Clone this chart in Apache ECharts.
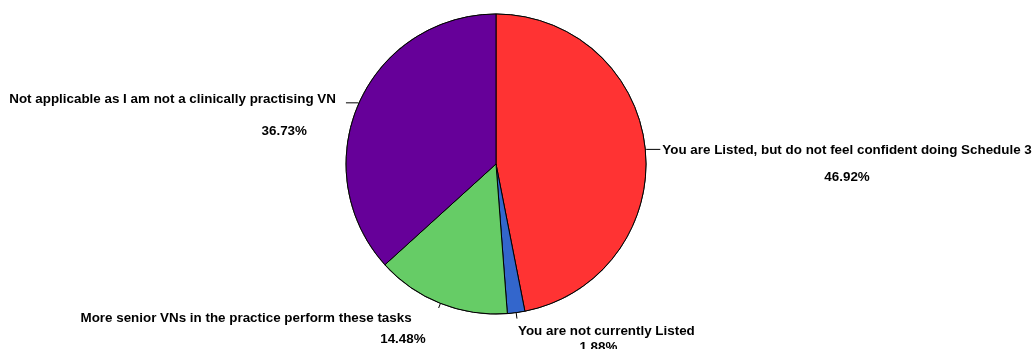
<!DOCTYPE html>
<html>
<head>
<meta charset="utf-8">
<script src="https://cdn.jsdelivr.net/npm/echarts@6/dist/echarts.min.js"></script>
<style>
  html, body { margin: 0; padding: 0; background: #fff; }
  #chart { width: 1036px; height: 349px; }
</style>
</head>
<body>
<div id="chart"></div>
<script>
// Survey responses (share of respondents, %)
const categories = [
  'You are Listed, but do not feel confident doing Schedule 3',
  'You are not currently Listed',
  'More senior VNs in the practice perform these tasks',
  'Not applicable as I am not a clinically practising VN'
];
const values = [46.92, 1.88, 14.48, 36.73];
const colors = ['#FF3333', '#3366CC', '#66CC66', '#660099'];

// Per-slice label placement: leader line lengths, gap to text,
// line spacing and block padding so the name sits at the line end
const labelStyles = [
  { length: 1, length2: 14, gap: 2,  lh: 27, pad: [29, 0, 0, 0], pAlign: 'center', pPad: [0, 0, 0, 0],  nPad: [0, 0, 0, 0] },
  { length: 6, length2: 0,  gap: 1,  lh: 16, pad: [41, 0, 0, 0], pAlign: 'center', pPad: [0, 16, 0, 0], nPad: [0, 0, 0, 0] },
  { length: 5, length2: 0,  gap: 13, lh: 21, pad: [41, 0, 0, 0], pAlign: 'right',  pPad: [0, 0, 0, 0],  nPad: [0, 14, 0, 0] },
  { length: 1, length2: 12, gap: 10, lh: 32, pad: [24, 0, 0, 0], pAlign: 'right',  pPad: [0, 29, 0, 0], nPad: [0, 0, 0, 0] }
];

const font = { fontFamily: '"Liberation Sans", Arial, sans-serif', fontWeight: 'bold', fontSize: 13.4, color: '#000' };

const data = categories.map((name, i) => {
  const s = labelStyles[i];
  return {
    name: name,
    value: values[i],
    itemStyle: { color: colors[i] },
    labelLine: { length: s.length, length2: s.length2 },
    label: {
      distanceToLabelLine: s.gap,
      padding: s.pad,
      rich: {
        n: Object.assign({}, font, { lineHeight: s.lh, padding: s.nPad }),
        p: Object.assign({}, font, { lineHeight: s.lh, align: s.pAlign, padding: s.pPad })
      }
    }
  };
});

const chart = echarts.init(document.getElementById('chart'), null, { renderer: 'canvas' });
chart.setOption({
  backgroundColor: '#ffffff',
  animation: false,
  series: [{
    type: 'pie',
    center: [496, 164],
    radius: 150,
    startAngle: 90,
    clockwise: true,
    avoidLabelOverlap: false,
    itemStyle: { borderColor: '#000', borderWidth: 1 },
    label: {
      show: true,
      position: 'outside',
      formatter: p => '{n|' + p.name + '}\n{p|' + p.value.toFixed(2) + '%}'
    },
    labelLine: {
      show: true,
      lineStyle: { color: '#000', width: 1 },
      minTurnAngle: 0,
      maxSurfaceAngle: 180
    },
    emphasis: { disabled: true },
    data: data
  }, {
    // outer rim drawn a little heavier than the slice separators
    type: 'pie',
    center: [496, 164],
    radius: [150, 150.5],
    silent: true,
    label: { show: false },
    labelLine: { show: false },
    itemStyle: { color: '#000', borderWidth: 0 },
    data: [{ value: values.reduce((a, b) => a + b, 0), name: '' }]
  }]
});
</script>
</body>
</html>
